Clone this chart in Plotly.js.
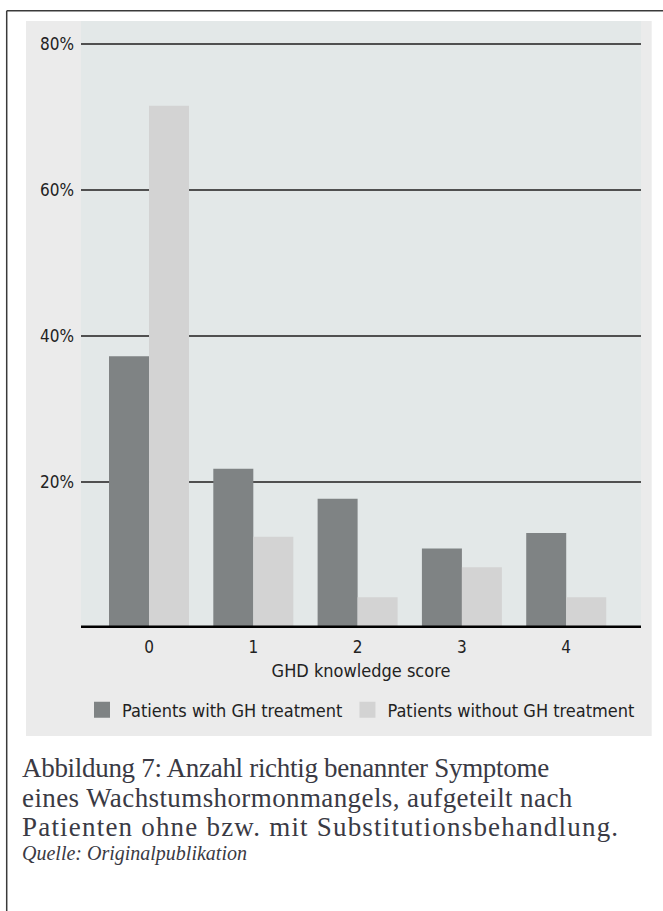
<!DOCTYPE html>
<html>
<head>
<meta charset="utf-8">
<script src="https://cdn.plot.ly/plotly-3.0.1.min.js"></script>
<style>html,body{margin:0;padding:0;background:#fff;}#chart{width:663px;height:911px;}</style>
</head>
<body>
<div id="chart"></div>
<script>
// ---- data ----
const categories = ['0', '1', '2', '3', '4'];
const withTreatment = [37.2, 21.8, 17.7, 10.9, 13.0];
const withoutTreatment = [71.5, 12.5, 4.2, 8.3, 4.2];
const seriesNames = ['Patients with GH treatment', 'Patients without GH treatment'];
const yTickValues = [20, 40, 60, 80];
const yTickLabels = ['20%', '40%', '60%', '80%'];
const xTitle = 'GHD knowledge score';
const captionLines = [
  'Abbildung 7: Anzahl richtig benannter Symptome',
  'eines Wachstumshormonmangels, aufgeteilt nach',
  'Patienten ohne bzw. mit Substitutionsbehandlung.'
];
const sourceLine = 'Quelle: Originalpublikation';

// ---- styles ----
const darkCol = '#7f8384';
const lightCol = '#d3d3d3';
const sansFont = '"DejaVu Sans Condensed", "Liberation Sans Narrow", "DejaVu Sans", sans-serif';
const serifFont = '"Liberation Serif", "DejaVu Serif", serif';
const captionSpacing = [-0.3, 0.4, 1.2];

// pixel -> paper helpers (plot area x 81..641, y 21..628)
const W = 663, H = 911, L = 81, R = 641, T = 21, B = 628;
const px = X => (X - L) / (R - L);
const py = Y => (B - Y) / (B - T);

const traces = [
  {type: 'bar', x: categories, y: withTreatment, name: seriesNames[0],
   marker: {color: darkCol, line: {width: 0}}, showlegend: false, hoverinfo: 'skip'},
  {type: 'bar', x: categories, y: withoutTreatment, name: seriesNames[1],
   marker: {color: lightCol, line: {width: 0}}, showlegend: false, hoverinfo: 'skip'},
  {type: 'scatter', mode: 'markers', x: [null], y: [null], name: seriesNames[0],
   marker: {symbol: 'square', size: 17, color: darkCol}},
  {type: 'scatter', mode: 'markers', x: [null], y: [null], name: seriesNames[1],
   marker: {symbol: 'square', size: 17, color: lightCol}}
];

const annotations = captionLines.map((t, i) => ({
  xref: 'paper', yref: 'paper', x: px(20), y: py(768 + i * 29.5),
  xanchor: 'left', yanchor: 'middle', showarrow: false,
  text: '<span style="letter-spacing:' + captionSpacing[i] + 'px">' + t + '</span>',
  font: {family: serifFont, size: 27, color: '#3a3a44'}
}));
annotations.push({
  xref: 'paper', yref: 'paper', x: px(20), y: py(853),
  xanchor: 'left', yanchor: 'middle', showarrow: false,
  text: '<i>' + sourceLine + '</i>',
  font: {family: serifFont, size: 20, color: '#3a3a44'}
});

const layout = {
  width: W, height: H,
  margin: {l: L, r: W - R, t: T, b: H - B, pad: 0},
  paper_bgcolor: '#ffffff',
  plot_bgcolor: '#e3e8e8',
  barmode: 'group',
  bargap: 0.233,
  bargroupgap: 0,
  showlegend: true,
  legend: {
    orientation: 'h', x: 0.5, xanchor: 'center', y: py(710), yanchor: 'middle',
    bgcolor: 'rgba(0,0,0,0)', font: {family: sansFont, size: 18, color: '#222'},
    itemwidth: 30, tracegroupgap: 0
  },
  xaxis: {
    type: 'category', range: [-0.652, 4.717], showgrid: false, zeroline: false,
    showline: false, ticks: '', ticklabelstandoff: 7,
    tickfont: {family: sansFont, size: 17, color: '#222'},
    title: {text: xTitle, font: {family: sansFont, size: 18, color: '#222'}, standoff: 8}
  },
  yaxis: {
    range: [0, 83.1], tickvals: yTickValues, ticktext: yTickLabels,
    showgrid: true, gridcolor: '#505050', gridwidth: 2, zeroline: false,
    showline: false, ticks: '', ticklabelstandoff: 6,
    tickfont: {family: sansFont, size: 17, color: '#222'}
  },
  shapes: [
    {type: 'rect', xref: 'paper', yref: 'paper', layer: 'below',
     x0: px(26), x1: px(651.7), y0: py(736), y1: 1, fillcolor: '#ebebeb', line: {width: 0}},
    {type: 'rect', xref: 'paper', yref: 'paper', layer: 'below',
     x0: 0, x1: 1, y0: 0, y1: 1, fillcolor: '#e3e8e8', line: {width: 0}},
    {type: 'line', xref: 'paper', yref: 'paper', x0: px(6.7), x1: px(663), y0: py(10.7), y1: py(10.7),
     line: {color: '#3a3a3a', width: 1.5}},
    {type: 'line', xref: 'paper', yref: 'paper', x0: px(6.7), x1: px(6.7), y0: py(10.7), y1: py(911),
     line: {color: '#3a3a3a', width: 1.5}},
    {type: 'line', xref: 'paper', yref: 'y', x0: 0, x1: 1, y0: 0, y1: 0, layer: 'above',
     line: {color: '#000000', width: 5}}
  ],
  annotations: annotations
};

Plotly.newPlot('chart', traces, layout, {staticPlot: true, displayModeBar: false});
</script>
</body>
</html>
